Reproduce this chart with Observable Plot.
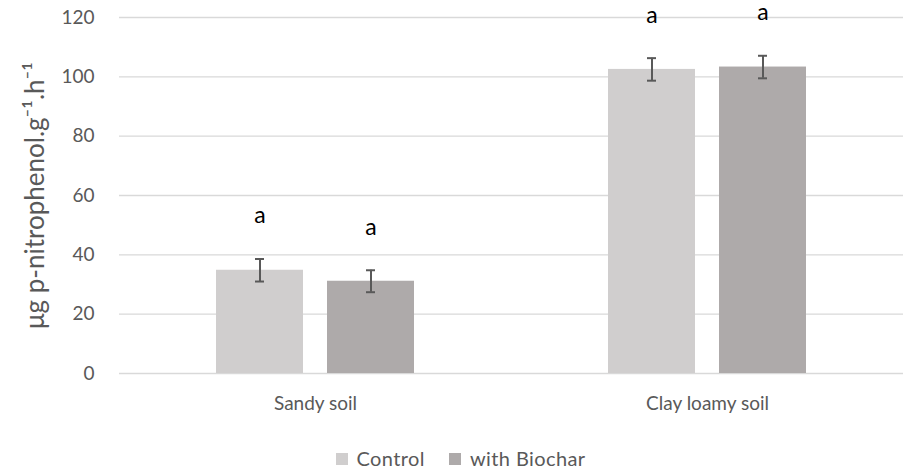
<!DOCTYPE html>
<html>
<head>
<meta charset="utf-8">
<script src="https://cdn.jsdelivr.net/npm/d3@7"></script>
<script src="https://cdn.jsdelivr.net/npm/@observablehq/plot@0.6"></script>
<style>
  body { margin: 0; background: #fff; font-family: Lato, "Open Sans", sans-serif; }
  #legend { display: flex; justify-content: center; gap: 24px; font-size: 20px; letter-spacing: 0.4px; color: #595959; height: 33px; align-items: center; padding-left: 16px; padding-top: 5px; }
  #legend span.sw { display: inline-block; width: 12px; height: 12px; margin-right: 9px; vertical-align: middle; position: relative; top: -1px; }
</style>
</head>
<body>
<div id="chart"></div>
<div id="legend"></div>
<script>
const soils = ["Sandy soil", "Clay loamy soil"];
const treatments = ["Control", "with Biochar"];
const colors = ["#d0cece", "#aeaaaa"];
const means = { "Sandy soil": [34.8, 31.1], "Clay loamy soil": [102.5, 103.3] };
const errors = { "Sandy soil": [3.8, 3.7], "Clay loamy soil": [3.8, 3.8] };
const letters = { "Sandy soil": ["a", "a"], "Clay loamy soil": ["a", "a"] };
const yTicks = [0, 20, 40, 60, 80, 100, 120];
const yLabel = "μg p-nitrophenol.g⁻¹.h⁻¹";

const data = soils.flatMap(s => treatments.map((t, i) => ({
  soil: s, treatment: t, mean: means[s][i], err: errors[s][i], letter: letters[s][i]
})));

const font = 'Lato, "Open Sans", sans-serif';
const chart = Plot.plot({
  width: 905,
  height: 436,
  marginLeft: 118,
  marginRight: 2,
  marginTop: 17,
  marginBottom: 63,
  style: { fontFamily: font, color: "#595959", background: "white", overflow: "visible" },
  fx: { domain: soils, padding: 0, label: null, axis: null },
  x: { domain: treatments, paddingInner: 0.214, paddingOuter: 0.86, axis: null },
  y: { domain: [0, 120], ticks: yTicks, label: null, axis: null },
  color: { domain: treatments, range: colors },
  marks: [
    Plot.ruleY(yTicks, { stroke: "#d9d9d9", strokeWidth: 1.3 }),
    Plot.axisY({ ticks: yTicks, tickSize: 0, tickPadding: 25, fontSize: 19, label: null, fill: "#595959" }),
    Plot.text([yLabel], { fx: () => soils[0], frameAnchor: "left", textAnchor: "middle", dx: -84, rotate: -90, fontSize: 26, fill: "#595959" }),
    Plot.axisFx({ domain: soils, anchor: "bottom", tickSize: 0, tickPadding: 23, fontSize: 19, label: null, fill: "#595959", style: { letterSpacing: "0.5px" } }),
    Plot.barY(data, { fx: "soil", x: "treatment", y: "mean", fill: "treatment" }),
    Plot.ruleX(data, { fx: "soil", x: "treatment", y1: d => d.mean - d.err, y2: d => d.mean + d.err, stroke: "#595959", strokeWidth: 2 }),
    Plot.tickY(data, { fx: "soil", x: "treatment", y: d => d.mean + d.err, stroke: "#595959", strokeWidth: 2, insetLeft: 39, insetRight: 39 }),
    Plot.tickY(data, { fx: "soil", x: "treatment", y: d => d.mean - d.err, stroke: "#595959", strokeWidth: 2, insetLeft: 39, insetRight: 39 }),
    Plot.text(data, { fx: "soil", x: "treatment", y: d => d.mean + d.err + 14.5, text: "letter", fontSize: 23, fill: "#000" })
  ]
});
document.getElementById("chart").appendChild(chart);

const legend = document.getElementById("legend");
treatments.forEach((t, i) => {
  const item = document.createElement("div");
  item.innerHTML = `<span class="sw" style="background:${colors[i]}"></span>${t}`;
  legend.appendChild(item);
});
</script>
</body>
</html>
